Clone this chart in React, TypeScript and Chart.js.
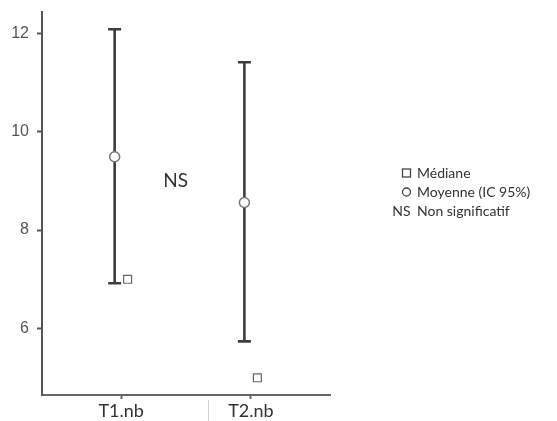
import React, { useEffect, useRef } from "react";
import { Chart, registerables } from "chart.js";

Chart.register(...registerables);

// Groups and summary statistics
const categories = ["T1.nb", "T2.nb"];
const means = [9.49, 8.56];
const ciLow = [6.92, 5.74];
const ciHigh = [12.08, 11.41];
const medians = [7.0, 5.0];

// Axis settings
const yTickValues = [6, 8, 10, 12];
const yMin = 4.65;
const yMax = 12.43;

// Significance note and legend
const significance = "NS";
const legendSymbols = ["square", "circle", "NS"];
const legendLabels = ["Médiane", "Moyenne (IC 95%)", "Non significatif"];

const BAR_OFFSET = -0.05;
const MEDIAN_OFFSET = 0.05;
const TEXT_FONT = "Lato, 'Open Sans', sans-serif";

const summaryPlugin = {
  id: "summaryPlugin",
  beforeDatasetsDraw(chart: any) {
    const { ctx, scales } = chart;
    const xs = scales.x;
    const ys = scales.y;
    ctx.save();
    ctx.strokeStyle = "#3d3d3d";
    ctx.lineWidth = 2.6;
    ctx.lineCap = "butt";
    categories.forEach((_, i) => {
      const x = xs.getPixelForValue(i + 1 + BAR_OFFSET);
      const yLo = ys.getPixelForValue(ciLow[i]);
      const yHi = ys.getPixelForValue(ciHigh[i]);
      ctx.beginPath();
      ctx.moveTo(x, yLo);
      ctx.lineTo(x, yHi);
      ctx.moveTo(x - 6.5, yHi);
      ctx.lineTo(x + 6.5, yHi);
      ctx.moveTo(x - 6.5, yLo);
      ctx.lineTo(x + 6.5, yLo);
      ctx.stroke();
    });
    ctx.restore();
  },
  afterDraw(chart: any) {
    const { ctx, scales } = chart;
    ctx.save();
    // significance marker between the groups
    ctx.fillStyle = "#333";
    ctx.font = `19px ${TEXT_FONT}`;
    ctx.textAlign = "center";
    ctx.textBaseline = "middle";
    ctx.fillText(significance, scales.x.getPixelForValue(1.42), scales.y.getPixelForValue(9.0));

    // legend on the right
    const textX = 417;
    const iconX = 406.5;
    const rowY = [173, 192, 211];
    ctx.font = `14px ${TEXT_FONT}`;
    legendSymbols.forEach((sym, i) => {
      const y = rowY[i];
      ctx.strokeStyle = "#444";
      ctx.lineWidth = 1.3;
      if (sym === "square") {
        ctx.strokeRect(iconX - 4, y - 4, 8, 8);
      } else if (sym === "circle") {
        ctx.beginPath();
        ctx.arc(iconX, y, 4, 0, Math.PI * 2);
        ctx.stroke();
      } else {
        ctx.fillStyle = "#333";
        ctx.textAlign = "right";
        ctx.fillText(sym, iconX + 4, y);
      }
      ctx.fillStyle = "#333";
      ctx.textAlign = "left";
      ctx.fillText(legendLabels[i], textX, y);
    });

    // thin divider under the category axis
    ctx.strokeStyle = "#d0d0d0";
    ctx.lineWidth = 1;
    ctx.beginPath();
    ctx.moveTo(208.5, 400);
    ctx.lineTo(208.5, 421);
    ctx.stroke();
    ctx.restore();
  },
};

export default function App() {
  const canvasRef = useRef<HTMLCanvasElement | null>(null);

  useEffect(() => {
    const canvas = canvasRef.current;
    if (!canvas) return;
    const chart = new Chart(canvas, {
      type: "scatter",
      data: {
        datasets: [
          {
            label: "Moyenne",
            data: means.map((m, i) => ({ x: i + 1 + BAR_OFFSET, y: m })),
            pointStyle: "circle",
            pointRadius: 5,
            pointBackgroundColor: "#ffffff",
            pointBorderColor: "#777777",
            pointBorderWidth: 1.5,
          },
          {
            label: "Médiane",
            data: medians.map((m, i) => ({ x: i + 1 + MEDIAN_OFFSET, y: m })),
            pointStyle: "rect",
            pointRadius: 5.6,
            pointBackgroundColor: "#ffffff",
            pointBorderColor: "#666666",
            pointBorderWidth: 1.2,
          },
        ],
      },
      options: {
        responsive: false,
        animation: false,
        layout: { padding: { top: 12, left: 0, right: 227, bottom: 0 } },
        plugins: {
          legend: { display: false },
          tooltip: { enabled: false },
        },
        scales: {
          x: {
            type: "linear",
            min: 0.39,
            max: 2.61,
            afterFit: (s: any) => {
              s.height = 26;
              s.paddingLeft = 0;
              s.paddingRight = 0;
            },
            afterBuildTicks: (s: any) => {
              s.ticks = categories.map((_, i) => ({ value: i + 1 }));
            },
            border: { display: true, color: "#666", width: 2 },
            grid: {
              display: true,
              drawOnChartArea: false,
              tickLength: 4,
              tickColor: "#666",
              tickWidth: 2,
            },
            ticks: {
              color: "#333",
              font: { family: TEXT_FONT, size: 18 },
              padding: 1,
              maxRotation: 0,
              callback: (v: any) => categories[Math.round(Number(v)) - 1] ?? "",
            },
          },
          y: {
            type: "linear",
            min: yMin,
            max: yMax,
            afterFit: (s: any) => {
              s.width = 42;
              s.paddingTop = 0;
              s.paddingBottom = 0;
            },
            afterBuildTicks: (s: any) => {
              s.ticks = yTickValues.map((v) => ({ value: v }));
            },
            border: { display: true, color: "#555", width: 2 },
            grid: {
              display: true,
              drawOnChartArea: false,
              tickLength: 5,
              tickColor: "#555",
              tickWidth: 2,
            },
            ticks: {
              color: "#555",
              font: { family: "'Liberation Sans', Arial, sans-serif", size: 16 },
              padding: 8,
            },
          },
        },
      },
      plugins: [summaryPlugin],
    });
    return () => chart.destroy();
  }, []);

  return (
    <div style={{ position: "absolute", left: 0, top: 0, width: 557, height: 421, background: "#fff" }}>
      <canvas ref={canvasRef} width={557} height={421} />
    </div>
  );
}
